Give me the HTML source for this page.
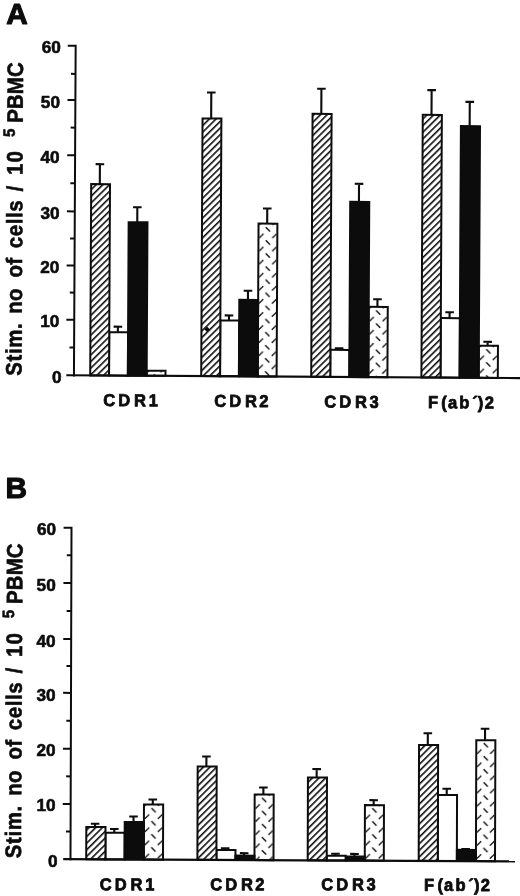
<!DOCTYPE html>
<html lang="en"><head><meta charset="utf-8"><title>Figure</title>
<style>html,body{margin:0;padding:0;background:#fff}svg{display:block;filter:blur(0.45px)}text{font-family:"Liberation Sans", Arial, Helvetica, sans-serif;font-weight:bold;fill:#0c0c0c}</style>
</head><body>
<svg width="520" height="896" viewBox="0 0 520 896">
<defs>
<pattern id="hatch" patternUnits="userSpaceOnUse" width="10" height="4.69" patternTransform="rotate(-45)"><rect width="10" height="4.69" fill="#fff"/><rect y="0" width="10" height="1.58" fill="#0c0c0c"/></pattern>
</defs>
<rect width="520" height="896" fill="#fff"/>
<g transform="translate(73.95 375.3) matrix(1 0.0062 -0.0052 1 0 0) translate(-73.95 -375.3)">
<defs>
<pattern id="dashA1" patternUnits="userSpaceOnUse" x="149.54" y="372.8" width="13.1" height="13.1">
<rect width="13.1" height="13.1" fill="#fff"/>
<path d="M4.45 1.2L8.65 5.4" stroke="#0c0c0c" stroke-width="1.45" stroke-linecap="butt"/>
<path d="M-2.1 11.95L2.1 7.75" stroke="#0c0c0c" stroke-width="1.45" stroke-linecap="butt"/>
<path d="M11 11.95L15.2 7.75" stroke="#0c0c0c" stroke-width="1.45" stroke-linecap="butt"/>
</pattern>
</defs>
<path d="M117.64 331.93V326.43 M113.34 326.43H121.94" stroke="#0c0c0c" stroke-width="2.1" fill="none"/>
<rect x="109.03" y="331.93" width="18.82" height="43.37" fill="#fff" stroke="#0c0c0c" stroke-width="2.0"/>
<rect x="146.68" y="370.25" width="18.82" height="5.05" fill="url(#dashA1)" stroke="#0c0c0c" stroke-width="2.0"/>
<path d="M98.81 184.02V164.02 M94.51 164.02H103.11" stroke="#0c0c0c" stroke-width="2.1" fill="none"/>
<rect x="90.2" y="184.02" width="18.82" height="191.28" fill="url(#hatch)" stroke="#0c0c0c" stroke-width="2.0"/>
<path d="M136.46 221.84V206.84 M132.16 206.84H140.76" stroke="#0c0c0c" stroke-width="2.1" fill="none"/>
<rect x="127.85" y="221.84" width="18.82" height="153.46" fill="#0c0c0c" stroke="#0c0c0c" stroke-width="2.0"/>
<text transform="translate(103.52 405.82) scale(0.96 1)" font-size="17.2" stroke="#0c0c0c" stroke-width="0.8" stroke-linejoin="round" dx="0 3.18 3.93 2.85">CDR1</text>
<defs>
<pattern id="dashA2" patternUnits="userSpaceOnUse" x="260.62" y="224.9" width="13.1" height="13.1">
<rect width="13.1" height="13.1" fill="#fff"/>
<path d="M4.45 1.2L8.65 5.4" stroke="#0c0c0c" stroke-width="1.45" stroke-linecap="butt"/>
<path d="M-2.1 11.95L2.1 7.75" stroke="#0c0c0c" stroke-width="1.45" stroke-linecap="butt"/>
<path d="M11 11.95L15.2 7.75" stroke="#0c0c0c" stroke-width="1.45" stroke-linecap="butt"/>
</pattern>
</defs>
<path d="M228.68 319.59V314.49 M224.38 314.49H232.98" stroke="#0c0c0c" stroke-width="2.1" fill="none"/>
<rect x="220.05" y="319.59" width="18.85" height="55.71" fill="#fff" stroke="#0c0c0c" stroke-width="2.0"/>
<path d="M266.38 222.42V207.32 M262.07 207.32H270.68" stroke="#0c0c0c" stroke-width="2.1" fill="none"/>
<rect x="257.75" y="222.42" width="18.85" height="152.88" fill="url(#dashA2)" stroke="#0c0c0c" stroke-width="2.0"/>
<path d="M209.82 117.68V91.68 M205.52 91.68H214.12" stroke="#0c0c0c" stroke-width="2.1" fill="none"/>
<rect x="201.2" y="117.68" width="18.85" height="257.62" fill="url(#hatch)" stroke="#0c0c0c" stroke-width="2.0"/>
<path d="M247.53 298.8V289.7 M243.22 289.7H251.83" stroke="#0c0c0c" stroke-width="2.1" fill="none"/>
<rect x="238.9" y="298.8" width="18.85" height="76.5" fill="#0c0c0c" stroke="#0c0c0c" stroke-width="2.0"/>
<text transform="translate(214.52 405.88) scale(0.96 1)" font-size="17.2" stroke="#0c0c0c" stroke-width="0.8" stroke-linejoin="round" dx="0 3.18 3.93 2.51">CDR2</text>
<defs>
<pattern id="dashA3" patternUnits="userSpaceOnUse" x="371.32" y="307.4" width="13.1" height="13.1">
<rect width="13.1" height="13.1" fill="#fff"/>
<path d="M4.45 1.2L8.65 5.4" stroke="#0c0c0c" stroke-width="1.45" stroke-linecap="butt"/>
<path d="M-2.1 11.95L2.1 7.75" stroke="#0c0c0c" stroke-width="1.45" stroke-linecap="butt"/>
<path d="M11 11.95L15.2 7.75" stroke="#0c0c0c" stroke-width="1.45" stroke-linecap="butt"/>
</pattern>
</defs>
<path d="M338.97 348.26V346.56 M334.67 346.56H343.27" stroke="#0c0c0c" stroke-width="2.1" fill="none"/>
<rect x="330.25" y="348.26" width="19.05" height="27.04" fill="#fff" stroke="#0c0c0c" stroke-width="2.0"/>
<path d="M377.07 304.98V297.38 M372.77 297.38H381.37" stroke="#0c0c0c" stroke-width="2.1" fill="none"/>
<rect x="368.35" y="304.98" width="19.05" height="70.32" fill="url(#dashA3)" stroke="#0c0c0c" stroke-width="2.0"/>
<path d="M319.92 112.35V87.25 M315.62 87.25H324.22" stroke="#0c0c0c" stroke-width="2.1" fill="none"/>
<rect x="311.2" y="112.35" width="19.05" height="262.95" fill="url(#hatch)" stroke="#0c0c0c" stroke-width="2.0"/>
<path d="M358.02 200.07V182.07 M353.72 182.07H362.32" stroke="#0c0c0c" stroke-width="2.1" fill="none"/>
<rect x="349.3" y="200.07" width="19.05" height="175.23" fill="#0c0c0c" stroke="#0c0c0c" stroke-width="2.0"/>
<text transform="translate(324.52 405.95) scale(0.96 1)" font-size="17.2" stroke="#0c0c0c" stroke-width="0.8" stroke-linejoin="round" dx="0 3.18 3.93 2.71">CDR3</text>
<defs>
<pattern id="dashA4" patternUnits="userSpaceOnUse" x="481.7" y="345.5" width="13.1" height="13.1">
<rect width="13.1" height="13.1" fill="#fff"/>
<path d="M4.45 1.2L8.65 5.4" stroke="#0c0c0c" stroke-width="1.45" stroke-linecap="butt"/>
<path d="M-2.1 11.95L2.1 7.75" stroke="#0c0c0c" stroke-width="1.45" stroke-linecap="butt"/>
<path d="M11 11.95L15.2 7.75" stroke="#0c0c0c" stroke-width="1.45" stroke-linecap="butt"/>
</pattern>
</defs>
<path d="M449.25 315.83V309.93 M444.95 309.93H453.55" stroke="#0c0c0c" stroke-width="2.1" fill="none"/>
<rect x="440.5" y="315.83" width="19.1" height="59.47" fill="#fff" stroke="#0c0c0c" stroke-width="2.0"/>
<path d="M487.45 343.15V339.25 M483.15 339.25H491.75" stroke="#0c0c0c" stroke-width="2.1" fill="none"/>
<rect x="478.7" y="343.15" width="19.1" height="32.15" fill="url(#dashA4)" stroke="#0c0c0c" stroke-width="2.0"/>
<path d="M430.15 112.71V87.91 M425.85 87.91H434.45" stroke="#0c0c0c" stroke-width="2.1" fill="none"/>
<rect x="421.4" y="112.71" width="19.1" height="262.59" fill="url(#hatch)" stroke="#0c0c0c" stroke-width="2.0"/>
<path d="M468.35 123.74V99.44 M464.05 99.44H472.65" stroke="#0c0c0c" stroke-width="2.1" fill="none"/>
<rect x="459.6" y="123.74" width="19.1" height="251.56" fill="#0c0c0c" stroke="#0c0c0c" stroke-width="2.0"/>
<text transform="translate(428.2 405.91) scale(0.96 1)" font-size="17.2" stroke="#0c0c0c" stroke-width="0.8" stroke-linejoin="round" dx="0 3.33 1.29 2.2 2.81 0.19 1.51">F(ab´)2</text>
<path d="M73.95 44.8V376.4M66.05 319.8H73.95M66.05 265.5H73.95M66.05 211.4H73.95M66.05 155.3H73.95M66.05 100H73.95M66.05 45.8H73.95M69.35 347.55H73.95M69.35 292.65H73.95M69.35 238.45H73.95M69.35 183.35H73.95M69.35 127.65H73.95M69.35 73.9H73.95" stroke="#0c0c0c" stroke-width="2" fill="none"/>
<path d="M66.3 375.3H520" stroke="#0c0c0c" stroke-width="2.2" fill="none"/>
</g>
<text transform="translate(51.94 382.9)" font-size="17.2" stroke="#0c0c0c" stroke-width="0.6" stroke-linejoin="round">0</text>
<text transform="translate(40.27 327.4)" font-size="17.2" stroke="#0c0c0c" stroke-width="0.6" stroke-linejoin="round">10</text>
<text transform="translate(40.27 273.1)" font-size="17.2" stroke="#0c0c0c" stroke-width="0.6" stroke-linejoin="round">20</text>
<text transform="translate(40.47 219)" font-size="17.2" stroke="#0c0c0c" stroke-width="0.6" stroke-linejoin="round">30</text>
<text transform="translate(40.47 162.9)" font-size="17.2" stroke="#0c0c0c" stroke-width="0.6" stroke-linejoin="round">40</text>
<text transform="translate(40.87 107.6)" font-size="17.2" stroke="#0c0c0c" stroke-width="0.6" stroke-linejoin="round">50</text>
<text transform="translate(41.67 53.4)" font-size="17.2" stroke="#0c0c0c" stroke-width="0.6" stroke-linejoin="round">60</text>
<text transform="translate(21.5 375.78) rotate(-89.71) scale(0.91 1)" font-size="22.4" stroke="#0c0c0c" stroke-width="0.6" stroke-linejoin="round" letter-spacing="0.75">Stim.</text>
<text transform="translate(21.82 313.74) rotate(-89.71) scale(0.91 1)" font-size="22.4" stroke="#0c0c0c" stroke-width="0.6" stroke-linejoin="round" letter-spacing="0.3">no</text>
<text transform="translate(22 277.59) rotate(-89.71) scale(0.91 1)" font-size="22.4" stroke="#0c0c0c" stroke-width="0.6" stroke-linejoin="round" letter-spacing="0.5">of</text>
<text transform="translate(22.15 248.19) rotate(-89.71) scale(0.91 1)" font-size="22.4" stroke="#0c0c0c" stroke-width="0.6" stroke-linejoin="round" letter-spacing="0.65">cells</text>
<text transform="translate(22.44 191.6) rotate(-89.71) scale(0.91 1)" font-size="22.4" stroke="#0c0c0c" stroke-width="0.6" stroke-linejoin="round">/</text>
<text transform="translate(22.53 174.88) rotate(-89.71) scale(0.91 1)" font-size="22.4" stroke="#0c0c0c" stroke-width="0.6" stroke-linejoin="round" letter-spacing="1.2">10</text>
<text transform="translate(22.79 122.86) rotate(-89.71) scale(0.91 1)" font-size="22.4" stroke="#0c0c0c" stroke-width="0.6" stroke-linejoin="round" letter-spacing="0.2">PBMC</text>
<text transform="translate(14.72 137.06) rotate(-89.71) scale(0.92 1)" font-size="16.4" stroke="#0c0c0c" stroke-width="0.6" stroke-linejoin="round">5</text>
<g transform="translate(70.5 859.25) matrix(1 0.0046 -0.003 1 0 0) translate(-70.5 -859.25)">
<defs>
<pattern id="dashB1" patternUnits="userSpaceOnUse" x="146.85" y="806.5" width="13.1" height="13.1">
<rect width="13.1" height="13.1" fill="#fff"/>
<path d="M4.45 1.2L8.65 5.4" stroke="#0c0c0c" stroke-width="1.45" stroke-linecap="butt"/>
<path d="M-2.1 11.95L2.1 7.75" stroke="#0c0c0c" stroke-width="1.45" stroke-linecap="butt"/>
<path d="M11 11.95L15.2 7.75" stroke="#0c0c0c" stroke-width="1.45" stroke-linecap="butt"/>
</pattern>
</defs>
<path d="M114.2 832.5V828.8 M109.9 828.8H118.5" stroke="#0c0c0c" stroke-width="2.1" fill="none"/>
<rect x="105.4" y="832.5" width="19.2" height="26.75" fill="#fff" stroke="#0c0c0c" stroke-width="2.0"/>
<path d="M152.6 804.08V799.08 M148.3 799.08H156.9" stroke="#0c0c0c" stroke-width="2.1" fill="none"/>
<rect x="143.8" y="804.08" width="19.2" height="55.17" fill="url(#dashB1)" stroke="#0c0c0c" stroke-width="2.0"/>
<path d="M95 826.86V823.66 M90.7 823.66H99.3" stroke="#0c0c0c" stroke-width="2.1" fill="none"/>
<rect x="86.2" y="826.86" width="19.2" height="32.39" fill="url(#hatch)" stroke="#0c0c0c" stroke-width="2.0"/>
<path d="M133.4 821.74V816.24 M129.1 816.24H137.7" stroke="#0c0c0c" stroke-width="2.1" fill="none"/>
<rect x="124.6" y="821.74" width="19.2" height="37.51" fill="#0c0c0c" stroke="#0c0c0c" stroke-width="2.0"/>
<text transform="translate(99.92 890.01) scale(0.96 1)" font-size="17.2" stroke="#0c0c0c" stroke-width="0.8" stroke-linejoin="round" dx="0 3.18 3.93 2.85">CDR1</text>
<defs>
<pattern id="dashB2" patternUnits="userSpaceOnUse" x="257.44" y="795.8" width="13.1" height="13.1">
<rect width="13.1" height="13.1" fill="#fff"/>
<path d="M4.45 1.2L8.65 5.4" stroke="#0c0c0c" stroke-width="1.45" stroke-linecap="butt"/>
<path d="M-2.1 11.95L2.1 7.75" stroke="#0c0c0c" stroke-width="1.45" stroke-linecap="butt"/>
<path d="M11 11.95L15.2 7.75" stroke="#0c0c0c" stroke-width="1.45" stroke-linecap="butt"/>
</pattern>
</defs>
<path d="M225.14 849.24V847.64 M220.84 847.64H229.44" stroke="#0c0c0c" stroke-width="2.1" fill="none"/>
<rect x="216.43" y="849.24" width="19.02" height="10.01" fill="#fff" stroke="#0c0c0c" stroke-width="2.0"/>
<path d="M263.19 793.63V786.63 M258.89 786.63H267.49" stroke="#0c0c0c" stroke-width="2.1" fill="none"/>
<rect x="254.47" y="793.63" width="19.02" height="65.62" fill="url(#dashB2)" stroke="#0c0c0c" stroke-width="2.0"/>
<path d="M206.11 765.9V755.9 M201.81 755.9H210.41" stroke="#0c0c0c" stroke-width="2.1" fill="none"/>
<rect x="197.4" y="765.9" width="19.02" height="93.35" fill="url(#hatch)" stroke="#0c0c0c" stroke-width="2.0"/>
<path d="M244.16 854.78V852.38 M239.86 852.38H248.46" stroke="#0c0c0c" stroke-width="2.1" fill="none"/>
<rect x="235.45" y="854.78" width="19.02" height="4.47" fill="#0c0c0c" stroke="#0c0c0c" stroke-width="2.0"/>
<text transform="translate(210.32 889.51) scale(0.96 1)" font-size="17.2" stroke="#0c0c0c" stroke-width="0.8" stroke-linejoin="round" dx="0 3.18 3.93 2.51">CDR2</text>
<defs>
<pattern id="dashB3" patternUnits="userSpaceOnUse" x="367.74" y="805.7" width="13.1" height="13.1">
<rect width="13.1" height="13.1" fill="#fff"/>
<path d="M4.45 1.2L8.65 5.4" stroke="#0c0c0c" stroke-width="1.45" stroke-linecap="butt"/>
<path d="M-2.1 11.95L2.1 7.75" stroke="#0c0c0c" stroke-width="1.45" stroke-linecap="butt"/>
<path d="M11 11.95L15.2 7.75" stroke="#0c0c0c" stroke-width="1.45" stroke-linecap="butt"/>
</pattern>
</defs>
<path d="M335.44 854.48V852.58 M331.14 852.58H339.74" stroke="#0c0c0c" stroke-width="2.1" fill="none"/>
<rect x="326.73" y="854.48" width="19.03" height="4.77" fill="#fff" stroke="#0c0c0c" stroke-width="2.0"/>
<path d="M373.49 803.77V798.77 M369.19 798.77H377.79" stroke="#0c0c0c" stroke-width="2.1" fill="none"/>
<rect x="364.77" y="803.77" width="19.03" height="55.48" fill="url(#dashB3)" stroke="#0c0c0c" stroke-width="2.0"/>
<path d="M316.41 776.44V767.94 M312.11 767.94H320.71" stroke="#0c0c0c" stroke-width="2.1" fill="none"/>
<rect x="307.7" y="776.44" width="19.03" height="82.81" fill="url(#hatch)" stroke="#0c0c0c" stroke-width="2.0"/>
<path d="M354.46 855.23V852.63 M350.16 852.63H358.76" stroke="#0c0c0c" stroke-width="2.1" fill="none"/>
<rect x="345.75" y="855.23" width="19.03" height="4.02" fill="#0c0c0c" stroke="#0c0c0c" stroke-width="2.0"/>
<text transform="translate(321.32 888.99) scale(0.96 1)" font-size="17.2" stroke="#0c0c0c" stroke-width="0.8" stroke-linejoin="round" dx="0 3.18 3.93 2.71">CDR3</text>
<defs>
<pattern id="dashB4" patternUnits="userSpaceOnUse" x="478.91" y="740" width="13.1" height="13.1">
<rect width="13.1" height="13.1" fill="#fff"/>
<path d="M4.45 1.2L8.65 5.4" stroke="#0c0c0c" stroke-width="1.45" stroke-linecap="butt"/>
<path d="M-2.1 11.95L2.1 7.75" stroke="#0c0c0c" stroke-width="1.45" stroke-linecap="butt"/>
<path d="M11 11.95L15.2 7.75" stroke="#0c0c0c" stroke-width="1.45" stroke-linecap="butt"/>
</pattern>
</defs>
<path d="M446.51 793.23V787.03 M442.21 787.03H450.81" stroke="#0c0c0c" stroke-width="2.1" fill="none"/>
<rect x="437.77" y="793.23" width="19.08" height="66.02" fill="#fff" stroke="#0c0c0c" stroke-width="2.0"/>
<path d="M484.66 738.31V726.81 M480.36 726.81H488.96" stroke="#0c0c0c" stroke-width="2.1" fill="none"/>
<rect x="475.93" y="738.31" width="19.08" height="120.94" fill="url(#dashB4)" stroke="#0c0c0c" stroke-width="2.0"/>
<path d="M427.44 743.39V731.59 M423.14 731.59H431.74" stroke="#0c0c0c" stroke-width="2.1" fill="none"/>
<rect x="418.7" y="743.39" width="19.08" height="115.86" fill="url(#hatch)" stroke="#0c0c0c" stroke-width="2.0"/>
<path d="M465.59 848.07V847.17 M461.29 847.17H469.89" stroke="#0c0c0c" stroke-width="2.1" fill="none"/>
<rect x="456.85" y="848.07" width="19.08" height="11.18" fill="#0c0c0c" stroke="#0c0c0c" stroke-width="2.0"/>
<text transform="translate(424.2 889.07) scale(0.96 1)" font-size="17.2" stroke="#0c0c0c" stroke-width="0.8" stroke-linejoin="round" dx="0 3.33 1.29 2.2 2.81 0.19 1.51">F(ab´)2</text>
<path d="M70.5 526.7V860.35M62.6 804H70.5M62.6 748.75H70.5M62.6 692.9H70.5M62.6 639H70.5M62.6 583H70.5M62.6 527.7H70.5M65.9 831.62H70.5M65.9 776.38H70.5M65.9 720.83H70.5M65.9 665.95H70.5M65.9 611H70.5M65.9 555.35H70.5" stroke="#0c0c0c" stroke-width="2" fill="none"/>
<path d="M63.2 859.25H515" stroke="#0c0c0c" stroke-width="2.2" fill="none"/>
</g>
<text transform="translate(47.94 866.75)" font-size="17.2" stroke="#0c0c0c" stroke-width="0.6" stroke-linejoin="round">0</text>
<text transform="translate(36.47 811.1)" font-size="17.2" stroke="#0c0c0c" stroke-width="0.6" stroke-linejoin="round">10</text>
<text transform="translate(36.47 756.25)" font-size="17.2" stroke="#0c0c0c" stroke-width="0.6" stroke-linejoin="round">20</text>
<text transform="translate(36.47 701.1)" font-size="17.2" stroke="#0c0c0c" stroke-width="0.6" stroke-linejoin="round">30</text>
<text transform="translate(36.47 646.6)" font-size="17.2" stroke="#0c0c0c" stroke-width="0.6" stroke-linejoin="round">40</text>
<text transform="translate(36.57 590.5)" font-size="17.2" stroke="#0c0c0c" stroke-width="0.6" stroke-linejoin="round">50</text>
<text transform="translate(36.97 535.2)" font-size="17.2" stroke="#0c0c0c" stroke-width="0.6" stroke-linejoin="round">60</text>
<text transform="translate(20.9 858.28) rotate(-89.71) scale(0.91 1)" font-size="22.4" stroke="#0c0c0c" stroke-width="0.6" stroke-linejoin="round" letter-spacing="0.75">Stim.</text>
<text transform="translate(21.22 795.74) rotate(-89.71) scale(0.91 1)" font-size="22.4" stroke="#0c0c0c" stroke-width="0.6" stroke-linejoin="round" letter-spacing="0.3">no</text>
<text transform="translate(21.4 759.59) rotate(-89.71) scale(0.91 1)" font-size="22.4" stroke="#0c0c0c" stroke-width="0.6" stroke-linejoin="round" letter-spacing="0.5">of</text>
<text transform="translate(21.55 730.19) rotate(-89.71) scale(0.91 1)" font-size="22.4" stroke="#0c0c0c" stroke-width="0.6" stroke-linejoin="round" letter-spacing="0.65">cells</text>
<text transform="translate(21.84 673.6) rotate(-89.71) scale(0.91 1)" font-size="22.4" stroke="#0c0c0c" stroke-width="0.6" stroke-linejoin="round">/</text>
<text transform="translate(21.93 656.88) rotate(-89.71) scale(0.91 1)" font-size="22.4" stroke="#0c0c0c" stroke-width="0.6" stroke-linejoin="round" letter-spacing="1.2">10</text>
<text transform="translate(22.2 603.96) rotate(-89.71) scale(0.91 1)" font-size="22.4" stroke="#0c0c0c" stroke-width="0.6" stroke-linejoin="round" letter-spacing="0.2">PBMC</text>
<text transform="translate(14.12 618.16) rotate(-89.71) scale(0.92 1)" font-size="16.4" stroke="#0c0c0c" stroke-width="0.6" stroke-linejoin="round">5</text>
<text transform="translate(6.16 23.7)" font-size="29.8" stroke="#0c0c0c" stroke-width="1.1" stroke-linejoin="round">A</text>
<text transform="translate(5.41 497.8)" font-size="29.8" stroke="#0c0c0c" stroke-width="1.1" stroke-linejoin="round">B</text>
<path d="M204.2 329.2L207 326.5L209.8 329.2L207 331.9Z" fill="#0c0c0c"/>
</svg>
</body></html>
